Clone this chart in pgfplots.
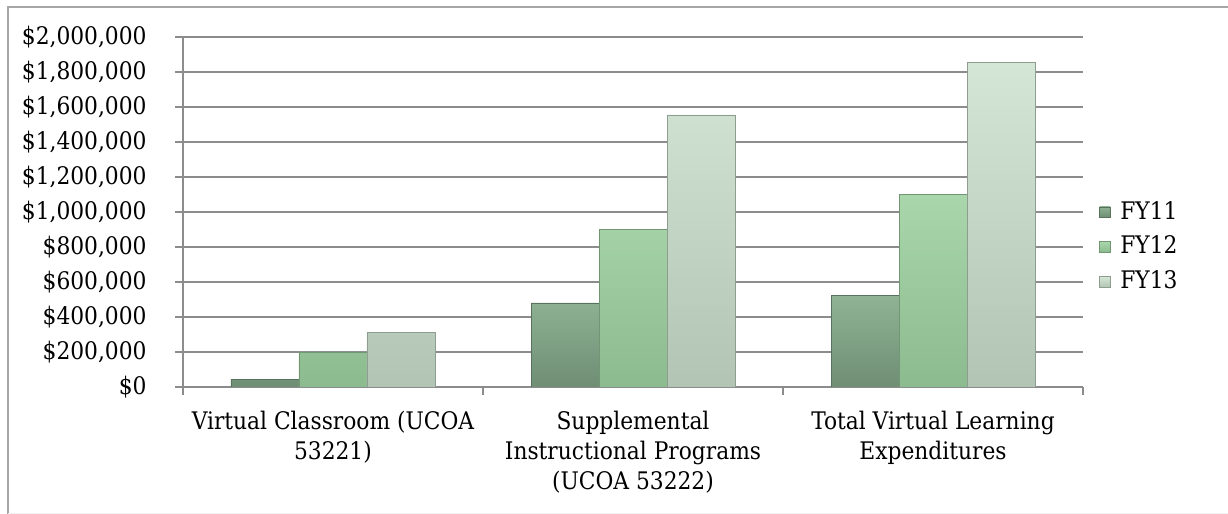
\documentclass[border=0pt]{standalone}
\usepackage{fontspec}
\setmainfont{DejaVu Serif Condensed}
\usepackage{pgfplots}
\pgfplotsset{compat=1.18}
\definecolor{gridgray}{HTML}{8C8C8C}
\definecolor{aTop}{HTML}{8FB394}
\definecolor{aBot}{HTML}{6F8E74}
\definecolor{bTop}{HTML}{A9D6AB}
\definecolor{bBot}{HTML}{8DBB90}
\definecolor{cTop}{HTML}{D4E7D6}
\definecolor{cBot}{HTML}{B2C4B4}
\begin{document}
\fontsize{12.1}{14.8}\selectfont
\begin{tikzpicture}
\path[use as bounding box] (0,0) rectangle (614pt,257pt);
\fill[white] (0,0) rectangle (614pt,257pt);
\draw[gray!70, line width=1pt] (4pt,0) -- (4pt,253.5pt) -- (614pt,253.5pt);
\draw[gray!12, line width=0.6pt] (4pt,0.4pt) -- (614pt,0.4pt);
\begin{axis}[
  at={(91.5pt,63.5pt)}, anchor=south west,
  scale only axis, width=450pt, height=175pt,
  xmin=-0.5, xmax=2.5, ymin=0, ymax=2000000,
  ybar=0pt, bar width=34pt,
  axis lines*=left,
  axis line style={gridgray, line width=0.75pt, -},
  ymajorgrids, grid style={gridgray, line width=0.75pt},
  ytick={0,200000,400000,600000,800000,1000000,1200000,1400000,1600000,1800000,2000000},
  yticklabels={{\$0},{\$200,000},{\$400,000},{\$600,000},{\$800,000},{\$1,000,000},{\$1,200,000},{\$1,400,000},{\$1,600,000},{\$1,800,000},{\$2,000,000}},
  scaled y ticks=false,
  tick align=outside, major tick length=4pt,
  tick style={gridgray, line width=0.75pt},
  yticklabel style={xshift=-10pt},
  xtick={-0.5,0.5,1.5,2.5}, xticklabels={},
  extra x ticks={0,1,2},
  extra x tick labels={{Virtual Classroom (UCOA\\53221)},{Supplemental\\Instructional Programs\\(UCOA 53222)},{Total Virtual Learning\\Expenditures}},
  extra x tick style={major tick length=0pt, grid=none},
  xticklabel style={align=center, yshift=-8pt},
  legend style={at={(1.011,0.4)}, anchor=west, draw=none, fill=none,
    row sep=4.5pt, column sep=4pt, nodes={inner sep=1pt, text height=9pt, text depth=2pt}},
  legend cell align=left,
  legend image code/.code={\fill[#1] (0pt,-2.6pt) rectangle (5.2pt,2.6pt);},
]
\addplot[draw=aBot!80!black, line width=0.3pt, top color=aTop, bottom color=aBot] coordinates {(0,45000) (1,480000) (2,525000)};
\addplot[draw=bBot!80!black, line width=0.3pt, top color=bTop, bottom color=bBot] coordinates {(0,200000) (1,900000) (2,1100000)};
\addplot[draw=cBot!80!black, line width=0.3pt, top color=cTop, bottom color=cBot] coordinates {(0,310000) (1,1555000) (2,1855000)};
\legend{FY11,FY12,FY13}
\end{axis}
\end{tikzpicture}
\end{document}
